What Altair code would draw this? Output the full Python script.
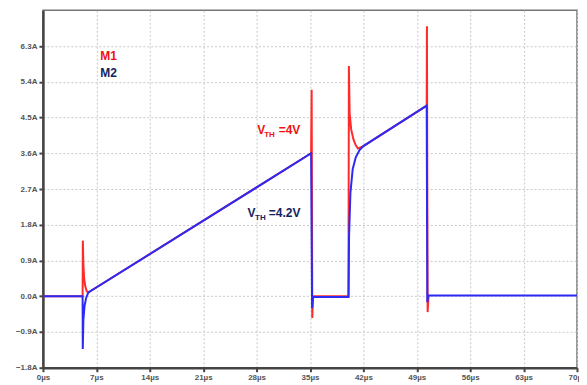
import altair as alt
import pandas as pd

# M1 (red) current trace (its flat tail lies under M2)
t_m1 = [0, 5.2, 5.23, 5.3, 5.4, 5.55, 5.75, 6.0, 35.15, 35.22, 35.3, 35.4, 40.05, 40.1, 40.2, 40.4,
        40.7, 41.0, 41.3, 42.0, 50.3, 50.33, 50.42, 50.55]
i_m1 = [0, 0, 1.4, 0.8, 0.45, 0.25, 0.12, 0.1, 3.6, 5.2, -0.55, 0.0, 0.0, 5.8, 4.6, 4.2,
        3.95, 3.8, 3.72, 3.78, 4.8, 6.8, -0.4, 0.02]

# M2 (blue) current trace
t_m2 = [0, 5.2, 5.22, 5.3, 5.45, 5.65, 5.9, 6.0, 35.15, 35.28, 35.4, 40.05, 40.12, 40.3, 40.6,
        41.0, 41.5, 42.0, 50.3, 50.38, 50.5, 70]
i_m2 = [0, 0, -1.33, -0.6, -0.25, -0.05, 0.07, 0.1, 3.6, -0.3, -0.02, -0.02, 1.5, 2.6, 3.2,
        3.5, 3.68, 3.78, 4.8, -0.15, 0.02, 0.02]

x_ticks = [0, 7, 14, 21, 28, 35, 42, 49, 56, 63, 70]
y_ticks = [-1.8, -0.9, 0.0, 0.9, 1.8, 2.7, 3.6, 4.5, 5.4, 6.3]

df1 = pd.DataFrame({"t": t_m1, "i": i_m1, "o": range(len(t_m1))})
df2 = pd.DataFrame({"t": t_m2, "i": i_m2, "o": range(len(t_m2))})

FONT = "Liberation Sans"

common_axis = dict(title=None, grid=True, gridDash=[2, 2], gridColor="#c8c8c8",
                   domainColor="#444", domainWidth=2.5, tickColor="#444", tickWidth=2,
                   tickSize=4, labelFont=FONT, labelFontSize=8, labelFontWeight="bold",
                   labelColor="#555", labelPadding=2, labelOverlap=False, labelFlush=False)

xscale = alt.Scale(domain=[0, 70], nice=False, zero=False)
yscale = alt.Scale(domain=[-1.8, 7.2], nice=False, zero=False)

xs = alt.X("t:Q", scale=xscale,
           axis=alt.Axis(values=x_ticks, labelExpr="datum.value + 'µs'", **common_axis))
ys = alt.Y("i:Q", scale=yscale,
           axis=alt.Axis(values=y_ticks, labelExpr="format(datum.value, '.1f') + 'A'", **common_axis))

red = alt.Chart(df1).mark_line(color="#ff2a2a", strokeWidth=2).encode(x=xs, y=ys, order="o:Q")
blue = alt.Chart(df2).mark_line(color="#2b2bf5", strokeWidth=2).encode(x=xs, y=ys, order="o:Q")

labels = pd.DataFrame({
    "t": [7.5, 7.5, 28.1, 29.0, 30.9, 26.8, 27.8, 29.6],
    "i": [6.05, 5.62, 4.18, 4.05, 4.18, 2.1, 1.97, 2.1],
    "txt": ["M1", "M2", "V", "TH", "=4V", "V", "TH", "=4.2V"],
    "c": ["#ee1111", "#14235e", "#ee1111", "#ee1111", "#ee1111", "#14235e", "#14235e", "#14235e"],
    "s": [12, 12, 12, 8, 12, 12, 8, 12],
})
text = alt.Chart(labels).mark_text(align="left", baseline="middle", font=FONT, fontWeight="bold").encode(
    x=xs,
    y=ys,
    text="txt:N",
    color=alt.Color("c:N", scale=None),
    size=alt.Size("s:Q", scale=None),
)

chart = alt.layer(red, blue, text).properties(
    width=535, height=358,
    autosize=alt.AutoSizeParams(type="none"),
    padding={"left": 35, "top": 2, "right": 2, "bottom": 17},
    background="white",
).configure_view(stroke="#777", strokeWidth=1.5)

chart.save("out.html", embed_options={"renderer": "svg", "actions": False})
